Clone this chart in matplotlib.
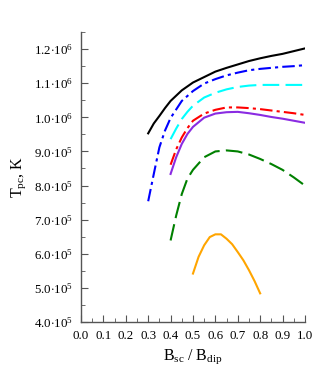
import numpy as np
import matplotlib
matplotlib.use("Agg")
import matplotlib.pyplot as plt
from matplotlib.ticker import MultipleLocator, FuncFormatter

plt.rcParams['font.family'] = ['Liberation Serif', 'DejaVu Serif']
plt.rcParams['mathtext.fontset'] = 'custom'
plt.rcParams['mathtext.rm'] = 'Liberation Serif'
plt.rcParams['mathtext.it'] = 'Liberation Serif:italic'

# B_sc / B_dip values and T_pc (K)
x_black = [0.30, 0.325, 0.35, 0.375, 0.40, 0.45, 0.50, 0.55, 0.60, 0.65, 0.70, 0.75, 0.80, 0.85, 0.90, 0.95, 1.00]
t_black = [9.53e5, 9.82e5, 1.004e6, 1.027e6, 1.048e6, 1.079e6, 1.102e6, 1.118e6, 1.134e6, 1.145e6,
           1.155e6, 1.165e6, 1.173e6, 1.180e6, 1.186e6, 1.194e6, 1.202e6]

x_blue = [0.30, 0.325, 0.35, 0.375, 0.40, 0.45, 0.50, 0.55, 0.60, 0.65, 0.70, 0.75, 0.80, 0.85, 0.90, 0.95, 1.00]
t_blue = [7.54e5, 8.34e5, 9.12e5, 9.61e5, 9.98e5, 1.048e6, 1.077e6, 1.099e6, 1.112e6, 1.123e6,
          1.131e6, 1.138e6, 1.142e6, 1.145e6, 1.148e6, 1.150e6, 1.153e6]

x_cyan = [0.40, 0.425, 0.45, 0.475, 0.50, 0.55, 0.60, 0.65, 0.70, 0.75, 0.80, 0.85, 0.90, 0.95, 1.00]
t_cyan = [9.36e5, 9.67e5, 9.95e5, 1.016e6, 1.034e6, 1.058e6, 1.072e6, 1.082e6, 1.089e6, 1.093e6,
          1.095e6, 1.095e6, 1.095e6, 1.095e6, 1.095e6]

x_red = [0.40, 0.425, 0.45, 0.475, 0.50, 0.55, 0.60, 0.65, 0.70, 0.75, 0.80, 0.85, 0.90, 0.95, 1.00]
t_red = [8.61e5, 9.06e5, 9.41e5, 9.68e5, 9.90e5, 1.011e6, 1.022e6, 1.029e6, 1.029e6, 1.027e6,
         1.024e6, 1.020e6, 1.016e6, 1.012e6, 1.007e6]

x_purple = [0.40, 0.425, 0.45, 0.475, 0.50, 0.55, 0.60, 0.65, 0.70, 0.75, 0.80, 0.85, 0.90, 0.95, 1.00]
t_purple = [8.34e5, 8.83e5, 9.22e5, 9.51e5, 9.72e5, 9.99e5, 1.011e6, 1.015e6, 1.016e6, 1.012e6,
            1.007e6, 1.001e6, 9.96e5, 9.90e5, 9.84e5]

x_green = [0.40, 0.425, 0.45, 0.475, 0.50, 0.55, 0.60, 0.65, 0.70, 0.75, 0.80, 0.85, 0.90, 0.95, 1.00]
t_green = [6.39e5, 7.12e5, 7.75e5, 8.20e5, 8.46e5, 8.83e5, 9.00e5, 9.03e5, 9.00e5, 8.91e5,
           8.78e5, 8.63e5, 8.46e5, 8.24e5, 8.00e5]

x_orange = [0.500, 0.525, 0.550, 0.575, 0.600, 0.625, 0.650, 0.675, 0.700, 0.725, 0.750, 0.775, 0.800]
t_orange = [5.42e5, 5.91e5, 6.25e5, 6.49e5, 6.57e5, 6.57e5, 6.44e5, 6.28e5,
            6.05e5, 5.81e5, 5.52e5, 5.20e5, 4.84e5]

fig = plt.figure(figsize=(3.22, 3.86), dpi=100)
ax = fig.add_axes([0.2516, 0.1658, 0.6954, 0.7512])

lw = 1.5
ax.plot(x_black, t_black, color='black', lw=lw)
ax.plot(x_blue, t_blue, color='blue', lw=lw, dashes=(6, 2, 1.5, 2))
ax.plot(x_cyan, t_cyan, color='cyan', lw=lw, dashes=(8, 3))
ax.plot(x_red, t_red, color='red', lw=lw, dashes=(6, 2, 1.5, 2))
ax.plot(x_purple, t_purple, color='blueviolet', lw=lw)
ax.plot(x_green, t_green, color='green', lw=lw, dashes=(8, 3))
ax.plot(x_orange, t_orange, color='orange', lw=lw)

ax.set_xlim(0, 1.0)
ax.set_ylim(4.0e5, 1.25e6)

ax.xaxis.set_major_locator(MultipleLocator(0.1))
ax.xaxis.set_minor_locator(MultipleLocator(0.05))
ax.yaxis.set_major_locator(MultipleLocator(1e5))
ax.yaxis.set_minor_locator(MultipleLocator(5e4))

def yfmt(v, pos):
    e = int(np.floor(np.log10(v)))
    return r'%.1f$\cdot$10$^{%d}$' % (v / 10**e, e)

ax.yaxis.set_major_formatter(FuncFormatter(yfmt))
ax.xaxis.set_major_formatter(FuncFormatter(lambda v, p: '%.1f' % v))

for s in ['top', 'right']:
    ax.spines[s].set_visible(False)
for s in ['left', 'bottom']:
    ax.spines[s].set_color('#555555')
    ax.spines[s].set_linewidth(1.0)

ax.tick_params(which='both', direction='in', color='#555555', labelsize=9.3)
ax.tick_params(which='major', length=5, pad=6)
ax.tick_params(which='minor', length=3)

ax.set_ylabel(r'T$_{\rm pc}$, K', fontsize=11.5)
ax.set_xlabel(r'B$_{\rm sc}$ / B$_{\rm dip}$', fontsize=11.5)

fig.savefig('out.png', dpi=100)
